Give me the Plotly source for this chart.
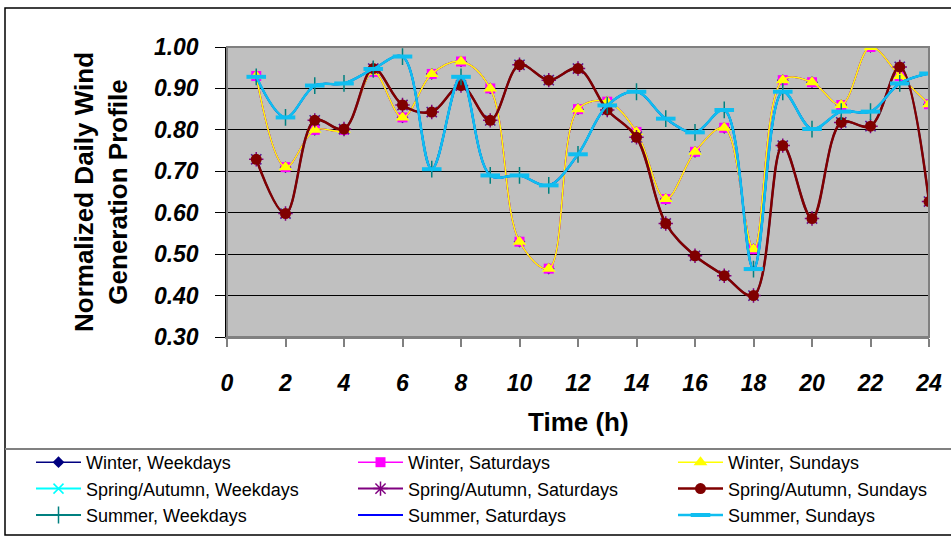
import plotly.graph_objects as go

# Hour of day
hours = list(range(1, 25))

# Normalized daily wind generation profiles per season
winter = [0.93, 0.71, 0.80, 0.80, 0.94, 0.83, 0.935, 0.965, 0.90, 0.53, 0.465, 0.85,
          0.868, 0.795, 0.633, 0.747, 0.805, 0.512, 0.92, 0.915, 0.86, 1.00, 0.93, 0.862]
spring_autumn = [0.729, 0.598, 0.823, 0.802, 0.948, 0.86, 0.843, 0.907, 0.823, 0.957, 0.92, 0.948,
                 0.848, 0.782, 0.574, 0.496, 0.448, 0.40, 0.762, 0.586, 0.818, 0.809, 0.952, 0.627]
summer = [0.928, 0.83, 0.907, 0.912, 0.947, 0.977, 0.705, 0.928, 0.69, 0.69, 0.666, 0.741,
          0.859, 0.892, 0.827, 0.794, 0.848, 0.464, 0.892, 0.802, 0.844, 0.844, 0.912, 0.936]

# Day types share the seasonal profile
winter_weekdays, winter_saturdays, winter_sundays = winter, winter, winter
sa_weekdays, sa_saturdays, sa_sundays = spring_autumn, spring_autumn, spring_autumn
summer_weekdays, summer_saturdays, summer_sundays = summer, summer, summer

y_ticks = [0.30, 0.40, 0.50, 0.60, 0.70, 0.80, 0.90, 1.00]
x_ticks = list(range(0, 25, 2))

# Legend columns: weekdays, saturdays, sundays
series = [
    # name, values, line colour, line width, symbol, size, marker colour, marker line width, legend
    ("Winter, Weekdays", winter_weekdays, "#000080", 1.5, "diamond", 9, "#000080", 0, "legend"),
    ("Winter, Saturdays", winter_saturdays, "#FF00FF", 1.5, "square", 10, "#FF00FF", 0, "legend2"),
    ("Winter, Sundays", winter_sundays, "#FFFF00", 1.5, "triangle-up", 12, "#FFFF00", 0, "legend3"),
    ("Spring/Autumn, Weekdays", sa_weekdays, "#00FFFF", 2, "x-thin", 10, "#00FFFF", 1.5, "legend"),
    ("Spring/Autumn, Saturdays", sa_saturdays, "#800080", 2, "asterisk", 12, "#800080", 1.5, "legend2"),
    ("Spring/Autumn, Sundays", sa_sundays, "#800000", 2.5, "circle", 11, "#800000", 0, "legend3"),
    ("Summer, Weekdays", summer_weekdays, "#008080", 2, "cross-thin", 12, "#008080", 1.5, "legend"),
    ("Summer, Saturdays", summer_saturdays, "#0000FF", 2, "line-ew", 8, "#0000FF", 2, "legend2"),
    ("Summer, Sundays", summer_sundays, "#10BEF0", 2.5, "line-ew", 14, "#10BEF0", 4, "legend3"),
]

fig = go.Figure()
for name, vals, lc, lw, sym, size, mc, mlw, lg in series:
    fig.add_trace(go.Scatter(
        x=hours, y=vals, name=name, mode="lines+markers",
        line=dict(color=lc, width=lw, shape="spline", smoothing=1),
        marker=dict(symbol=sym, size=size, color=mc,
                    line=dict(color=mc, width=mlw)),
        legend=lg, legendgroup=name,
    ))

L, R, T, B = 227, 22, 47, 199
W, H = 951, 536
PW, PH = W - L - R, H - T - B


def px(xp):
    return (xp - L) / PW


def py(yp):
    return (H - B - yp) / PH


legend_common = dict(
    orientation="v", xanchor="left", yanchor="top",
    font=dict(family="Liberation Sans, Arial", size=18, color="black"),
    bgcolor="rgba(0,0,0,0)", borderwidth=0, itemwidth=45,
    traceorder="grouped", tracegroupgap=0,
)

fig.update_layout(
    width=W, height=H,
    margin=dict(l=L, r=R, t=T, b=B, autoexpand=False),
    paper_bgcolor="white",
    plot_bgcolor="#C0C0C0",
    font=dict(family="Liberation Sans, Arial", color="black"),
    legend=dict(legend_common, x=px(31), y=py(444)),
    legend2=dict(legend_common, x=px(353), y=py(444)),
    legend3=dict(legend_common, x=px(673), y=py(444)),
    xaxis=dict(
        range=[0, 24], tickvals=x_ticks, ticktext=[str(v) for v in x_ticks],
        ticks="outside", ticklen=8, tickcolor="#808080", tickwidth=1.5,
        tickfont=dict(size=23, family="Liberation Sans, Arial", weight="bold", style="italic"),
        ticklabelstandoff=16,
        showgrid=False, zeroline=False,
        showline=True, linecolor="#808080", linewidth=2,
    ),
    yaxis=dict(
        range=[0.30, 1.00], tickvals=y_ticks, tickformat=".2f",
        ticks="outside", ticklen=10, tickcolor="black", tickwidth=1,
        tickfont=dict(size=23, family="Liberation Sans, Arial", weight="bold", style="italic"),
        ticklabelstandoff=12,
        showgrid=True, gridcolor="black", gridwidth=1,
        zeroline=False, showline=True, linecolor="black", linewidth=1.5,
    ),
    annotations=[
        dict(text="Time (h)", xref="paper", yref="paper", x=0.5, y=py(422),
             xanchor="center", yanchor="middle", showarrow=False,
             font=dict(size=26, weight="bold", family="Liberation Sans, Arial")),
        dict(text="Normalized Daily Wind<br>Generation Profile", xref="paper", yref="paper",
             x=px(101), y=py(192), xanchor="center", yanchor="middle", showarrow=False,
             textangle=-90,
             font=dict(size=26, weight="bold", family="Liberation Sans, Arial")),
    ],
    shapes=[
        # plot area frame
        dict(type="rect", xref="paper", yref="paper", x0=0, x1=1, y0=0, y1=1,
             line=dict(color="#808080", width=2), layer="above"),
        # chart outer frame
        dict(type="rect", xref="paper", yref="paper", x0=px(5), x1=px(960),
             y0=py(535), y1=py(8), line=dict(color="black", width=1.5), layer="below"),
        # legend box top edge
        dict(type="line", xref="paper", yref="paper", x0=px(5), x1=px(960),
             y0=py(449), y1=py(449), line=dict(color="#808080", width=2)),
    ],
)

fig.write_html("out.html")
